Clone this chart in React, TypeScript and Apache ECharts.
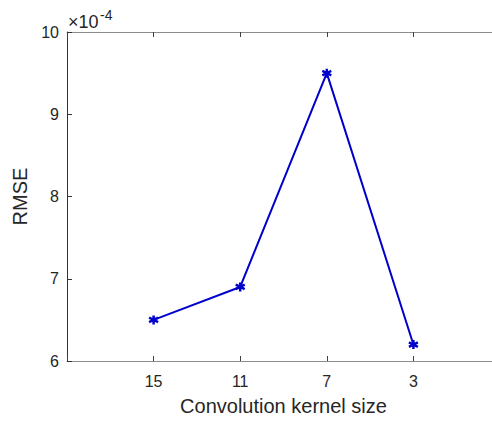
import React, { useEffect, useRef } from "react";
import * as echarts from "echarts";

const categories = ["", "15", "11", "7", "3", ""];
const rmseValues = [null, 6.5, 6.9, 9.5, 6.2, null];
const yTicks = [6, 7, 8, 9, 10];
const xTitle = "Convolution kernel size";
const yTitle = "RMSE";
const exponentBase = "×10";
const exponentPower = "-4";

const FONT = "'Liberation Sans', Arial, Helvetica, sans-serif";
const TXT = "#262626";

export default function App() {
  const ref = useRef<HTMLDivElement>(null);
  useEffect(() => {
    if (!ref.current) return;
    const chart = echarts.init(ref.current, null, { renderer: "svg" });
    const asterisk =
      "path://M0,-5L0,5M-4.33,-2.5L4.33,2.5M-4.33,2.5L4.33,-2.5";
    chart.setOption({
      animation: false,
      backgroundColor: "#ffffff",
      grid: { left: 67, right: 0, top: 32, bottom: 61, outerBoundsMode: "none", containLabel: false },
      xAxis: [
        {
          type: "category",
          data: categories,
          boundaryGap: false,
          position: "bottom",
          name: xTitle,
          nameLocation: "middle",
          nameGap: 35,
          nameTextStyle: { fontSize: 20, color: TXT, fontFamily: FONT },
          axisLine: { lineStyle: { color: "#8c8c8c", width: 1 } },
          axisTick: { inside: true, length: 5, lineStyle: { color: "#404040" } },
          axisLabel: { fontSize: 16, color: TXT, fontFamily: FONT, margin: 12 },
          splitLine: { show: false },
        },
        {
          type: "category",
          data: categories,
          boundaryGap: false,
          position: "top",
          axisLine: { lineStyle: { color: "#8c8c8c", width: 1 } },
          axisTick: { inside: true, length: 5, lineStyle: { color: "#404040" } },
          axisLabel: { show: false },
          splitLine: { show: false },
        },
      ],
      yAxis: {
        type: "value",
        min: yTicks[0],
        max: yTicks[yTicks.length - 1],
        interval: 1,
        name: yTitle,
        nameLocation: "middle",
        nameGap: 34,
        nameTextStyle: { fontSize: 20, color: TXT, fontFamily: FONT },
        axisLine: { show: true, lineStyle: { color: "#333333", width: 1 } },
        axisTick: { show: true, inside: true, length: 5, lineStyle: { color: "#333333" } },
        axisLabel: { fontSize: 16, color: TXT, fontFamily: FONT, margin: 8 },
        splitLine: { show: false },
      },
      graphic: [
        {
          type: "text",
          x: 68,
          y: 22,
          style: {
            text: exponentBase,
            fontSize: 18,
            fontFamily: FONT,
            fill: TXT,
            align: "left",
            verticalAlign: "middle",
          },
        },
        {
          type: "text",
          x: 100,
          y: 15,
          style: {
            text: exponentPower,
            fontSize: 14,
            fontFamily: FONT,
            fill: TXT,
            align: "left",
            verticalAlign: "middle",
          },
        },
      ],
      series: [
        {
          type: "line",
          data: rmseValues,
          xAxisIndex: 0,
          lineStyle: { color: "#0000cc", width: 2 },
          itemStyle: { color: "#0000cc", borderColor: "#0000cc", borderWidth: 2.5 },
          symbol: asterisk,
          symbolSize: 9,
          showSymbol: true,
          connectNulls: false,
        },
      ],
    });
    return () => chart.dispose();
  }, []);
  return (
    <div style={{ position: "absolute", left: 0, top: 0, width: 492, height: 422, overflow: "hidden", background: "#fff" }}>
      <div ref={ref} style={{ width: 500, height: 422 }} />
    </div>
  );
}
